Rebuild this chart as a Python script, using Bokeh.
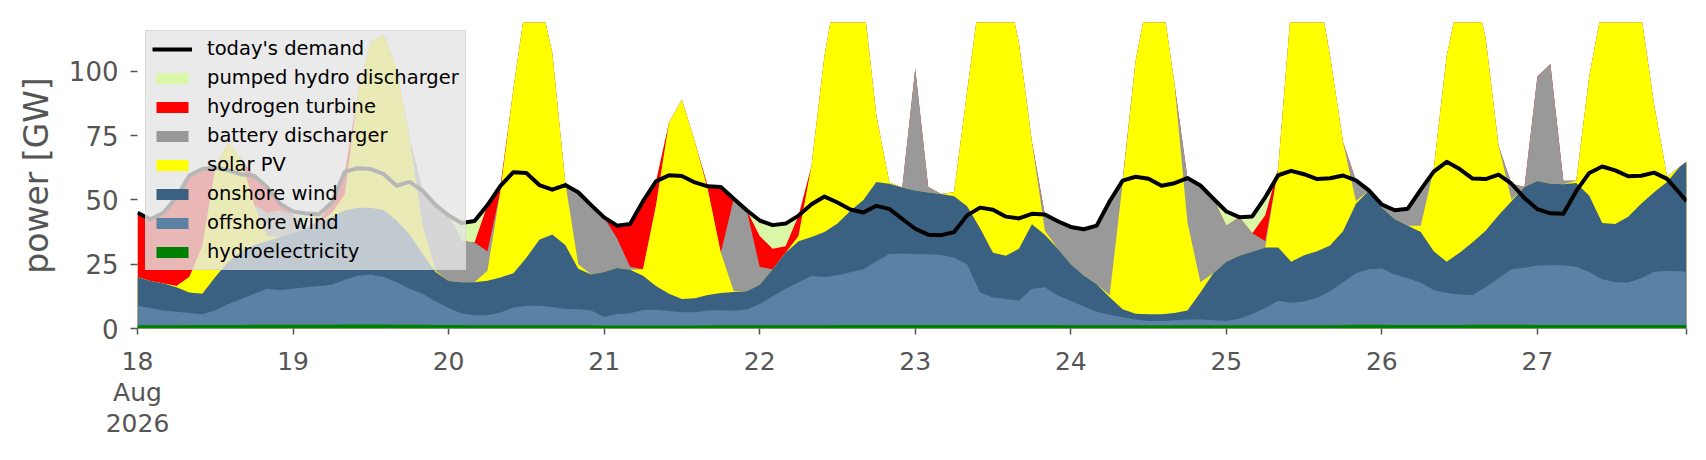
import numpy as np
from bokeh.plotting import figure
from bokeh.models import FixedTicker, Legend, LegendItem, Range1d
from bokeh.embed import file_html
from bokeh.resources import INLINE

# time axis: hours since 18 Aug 2026 00:00 (2-hourly readings, last point 27 Aug 23:00)
hours = list(range(0, 240, 2)) + [239]

day_ticks = [0, 24, 48, 72, 96, 120, 144, 168, 192, 216]
day_labels = ["18\nAug\n2026", "19", "20", "21", "22", "23", "24", "25", "26", "27"]

# GW, one row per day (12 two-hourly values; last row has the extra 23:00 value)
hydroelectricity = [
    1.3, 1.3, 1.3, 1.3, 1.4, 1.4, 1.4, 1.4, 1.4, 1.5, 1.5, 1.5,
    1.5, 1.5, 1.5, 1.5, 1.6, 1.6, 1.6, 1.6, 1.5, 1.5, 1.5, 1.4,
    1.4, 1.4, 1.3, 1.3, 1.3, 1.3, 1.3, 1.3, 1.3, 1.3, 1.3, 1.3,
    1.2, 1.2, 1.2, 1.2, 1.2, 1.2, 1.2, 1.2, 1.3, 1.3, 1.3, 1.3,
    1.3, 1.3, 1.3, 1.3, 1.3, 1.3, 1.4, 1.4, 1.4, 1.4, 1.4, 1.4,
    1.4, 1.4, 1.4, 1.4, 1.4, 1.4, 1.4, 1.4, 1.4, 1.4, 1.4, 1.4,
    1.3, 1.3, 1.3, 1.3, 1.3, 1.3, 1.3, 1.3, 1.3, 1.3, 1.3, 1.3,
    1.3, 1.3, 1.3, 1.3, 1.3, 1.3, 1.3, 1.3, 1.3, 1.4, 1.5, 1.5,
    1.5, 1.4, 1.4, 1.4, 1.4, 1.4, 1.4, 1.5, 1.5, 1.5, 1.5, 1.5,
    1.4, 1.4, 1.4, 1.4, 1.4, 1.4, 1.4, 1.4, 1.4, 1.4, 1.4, 1.4, 1.4,
]
offshore_wind = [
    7.5, 6.7, 5.7, 5.2, 4.6, 4.1, 5.6, 8.1, 10.1, 12.0, 14.0, 13.5,
    14.0, 14.5, 15.0, 15.5, 17.4, 18.9, 19.4, 18.4, 16.5, 14.0, 12.0, 9.1,
    6.6, 4.4, 3.9, 3.9, 4.9, 6.9, 7.5, 7.5, 7.1, 6.3, 6.2, 5.7,
    3.3, 4.4, 4.7, 6.0, 6.1, 5.6, 5.1, 5.1, 5.7, 5.8, 5.6, 6.1,
    8.2, 11.2, 14.2, 16.7, 19.1, 18.7, 19.3, 20.5, 21.6, 24.8, 27.6, 27.8,
    27.5, 27.5, 27.2, 26.1, 23.6, 12.6, 10.7, 10.1, 9.4, 14.1, 14.6, 11.4,
    9.5, 7.3, 5.2, 4.0, 3.1, 2.2, 1.6, 1.6, 1.9, 2.2, 2.2, 1.9,
    1.6, 2.5, 4.3, 6.7, 9.5, 8.7, 9.2, 10.7, 13.2, 16.6, 20.0, 21.5,
    21.8, 19.6, 18.1, 16.4, 13.6, 12.4, 11.8, 11.5, 14.5, 18.0, 21.5, 22.1,
    23.1, 23.2, 23.2, 22.6, 20.6, 17.8, 16.6, 16.5, 18.1, 20.7, 21.0, 20.9, 20.6,
]
onshore_wind = [
    11.2, 10.5, 10.5, 9.5, 8.0, 8.0, 13.0, 16.5, 18.5, 19.0, 18.5, 20.5,
    21.5, 23.0, 24.5, 26.5, 27.0, 26.5, 26.0, 26.0, 24.0, 21.0, 15.5, 11.5,
    10.5, 12.2, 12.8, 13.4, 13.6, 13.3, 18.7, 25.7, 28.2, 24.9, 15.7, 14.0,
    17.5, 17.9, 16.9, 13.3, 9.2, 6.7, 5.2, 5.5, 6.0, 6.7, 7.3, 7.1,
    7.5, 10.5, 14.0, 15.9, 15.2, 17.5, 20.1, 23.9, 27.0, 30.8, 27.3, 25.6,
    24.8, 24.0, 23.7, 23.9, 22.5, 25.0, 17.4, 16.8, 20.2, 25.0, 20.5, 18.2,
    14.2, 12.0, 10.7, 6.9, 3.1, 2.2, 2.6, 2.6, 2.8, 3.5, 10.5, 18.3,
    23.1, 24.5, 24.2, 23.5, 20.7, 16.0, 18.0, 18.0, 17.8, 19.8, 27.0, 30.7,
    23.7, 21.5, 20.5, 19.7, 15.0, 12.2, 16.3, 20.5, 22.0, 24.5, 26.5, 31.4,
    32.9, 31.7, 31.5, 32.6, 29.6, 21.8, 22.6, 25.6, 29.0, 30.9, 34.6, 40.7, 42.8,
]
solar_pv = [
    0, 0, 0, 0.5, 6.0, 18.5, 42.0, 46.4, 36.0, 15.5, 2.0, 0,
    0, 0, 0, 1.5, 6.0, 44.6, 64.7, 68.0, 59.0, 37.0, 11.0, 0.5,
    0, 0, 0, 3.9, 33.8, 71.5, 100.5, 95.5, 70.4, 24.3, 1.8, 0,
    0, 0, 0, 2.5, 31.2, 66.5, 77.5, 60.7, 41.0, 15.7, 0.3, 0,
    0, 0, 0, 2.1, 27.7, 68.5, 94.2, 94.2, 78.0, 25.7, 0.5, 0,
    0, 0, 0, 1.6, 44.5, 91.0, 110.5, 106.7, 80.0, 32.0, 1.5, 0,
    0, 0, 0, 0.8, 49.0, 98.3, 124.5, 124.5, 89.0, 34.2, 4.0, 0,
    0, 0, 0, 0, 30.5, 99.0, 109.5, 105.0, 73.7, 34.7, 1.0, 0,
    0, 0, 0, 2.5, 32.0, 80.0, 100.5, 101.5, 75.0, 27.0, 0.5, 0,
    0, 0, 0, 0.9, 46.4, 84.0, 94.4, 91.5, 73.5, 34.0, 2.0, 0, 0,
]
battery_discharger = [
    0, 0, 0, 0, 0, 0, 0, 0, 0, 0, 9.0, 10.5,
    7.0, 0, 0, 0, 0, 0, 0, 0, 0, 0, 13.5, 25.5,
    25.5, 16.0, 15.4, 7.5, 0, 0, 0, 0, 0, 0, 28.0, 27.0,
    21.2, 11.5, 1.2, 0, 0, 0, 0, 0, 0, 0, 36.0, 31.5,
    7.0, 0, 0, 0, 0, 0, 0, 0, 0, 0, 0, 0,
    47.2, 2.1, 0, 0, 0, 0, 0, 0, 0, 0, 6.3, 10.7,
    14.5, 18.0, 22.8, 36.5, 1.0, 0, 0, 0, 0, 17.3, 37.6, 29.0,
    14.0, 15.0, 7.2, 2.5, 0, 0, 0, 0, 0, 0, 8.1, 0,
    1.2, 3.5, 6.6, 14.0, 0, 0, 0, 0, 0, 0, 6.3, 0,
    40.6, 46.6, 1.4, 0, 0, 0, 0, 0, 0, 0, 0, 0, 0,
]
hydrogen_turbine = [
    25.0, 24.0, 27.5, 34.5, 39.5, 30.0, 0.5, 0, 0, 11.4, 10.0, 2.5,
    0, 0, 1.0, 4.0, 9.0, 0, 0, 0, 0, 0, 0, 0,
    0, 0, 0, 18.0, 1.9, 0, 0, 0, 0, 0, 0, 0,
    0, 5.0, 16.6, 26.5, 9.5, 0, 0, 0, 1.3, 25.5, 0, 0,
    12.0, 8.0, 2.5, 7.9, 0, 0, 0, 0, 0, 0, 0, 0,
    0, 0, 0, 0, 0, 0, 0, 0, 0, 0, 0, 0,
    0, 0, 0, 0, 0, 0, 0, 0, 0, 0, 0, 0,
    0, 0, 0, 10.0, 0, 0, 0, 0, 0, 0, 0, 0,
    0, 0, 0, 0, 0, 0, 0, 0, 0, 0, 0, 0,
    0, 0, 0, 0, 0, 0, 0, 0, 0, 0, 0, 0, 0,
]
pumped_hydro_discharger = [
    0, 0, 0, 0, 0, 0, 0, 0, 0, 0, 0, 0,
    1.5, 5.5, 2.4, 0, 0, 0, 0, 0, 0, 0, 0, 0,
    0, 7.0, 8.4, 0, 0, 0, 0, 0, 0, 0, 0, 0,
    0, 0, 0, 0, 0, 0, 0, 0, 0, 0, 0, 0,
    6.0, 9.2, 8.8, 0, 0, 0, 0, 0, 0, 0, 0, 0,
    0, 0, 0, 0, 0, 0, 0, 0, 0, 0, 0, 0,
    0, 0, 0, 0, 0, 0, 0, 0, 0, 0, 0, 0,
    5.5, 0, 6.6, 7.0, 0, 0, 0, 0, 0, 0, 0, 0,
    0, 0, 0, 0, 0, 0, 0, 0, 0, 0, 0, 0,
    0, 0, 0, 0, 0, 0, 0, 0, 0, 0, 0, 0, 0,
]
todays_demand = [
    45.0, 42.5, 45.0, 51.0, 59.5, 62.0, 62.5, 61.5, 60.0, 59.4, 55.0, 48.5,
    45.5, 44.7, 44.4, 49.0, 61.0, 62.3, 62.0, 60.0, 55.5, 57.0, 53.5, 48.0,
    44.0, 41.0, 41.8, 48.0, 55.5, 60.8, 60.5, 55.8, 54.0, 55.8, 53.0, 48.0,
    43.2, 40.0, 40.6, 49.5, 57.2, 59.6, 59.3, 56.8, 55.3, 55.0, 50.5, 46.0,
    42.0, 40.2, 40.8, 43.9, 48.3, 51.3, 49.0, 46.3, 45.1, 47.7, 46.5, 42.6,
    38.8, 36.5, 36.3, 37.5, 44.0, 47.0, 46.2, 43.5, 42.8, 44.6, 44.3, 41.7,
    39.5, 38.6, 40.0, 49.5, 57.5, 59.0, 58.2, 55.5, 56.5, 58.5, 55.6, 50.5,
    45.5, 43.3, 43.6, 51.0, 59.6, 61.3, 60.0, 58.1, 58.4, 59.5, 57.6, 53.7,
    48.2, 46.0, 46.6, 54.0, 61.0, 64.8, 62.0, 58.3, 58.1, 59.8, 56.3, 50.7,
    46.4, 44.8, 44.6, 53.5, 60.5, 63.0, 61.5, 59.2, 59.4, 60.6, 58.2, 52.5, 49.5,
]

# stack order bottom -> top
layers = [
    ("hydroelectricity", hydroelectricity, "#008000"),
    ("offshore wind", offshore_wind, "#5b82a4"),
    ("onshore wind", onshore_wind, "#3a6082"),
    ("solar PV", solar_pv, "#ffff00"),
    ("battery discharger", battery_discharger, "#999999"),
    ("hydrogen turbine", hydrogen_turbine, "#ff0000"),
    ("pumped hydro discharger", pumped_hydro_discharger, "#d9f7a6"),
]

FONT = "DejaVu Sans"
GREY = "#555555"

p = figure(
    frame_width=1549, frame_height=306,
    min_border_left=137, min_border_right=12, min_border_top=22, min_border_bottom=122,
    x_range=Range1d(0, 239), y_range=Range1d(0, 119),
    output_backend="svg", toolbar_location=None,
    background_fill_color="white", border_fill_color="white",
)
p.outline_line_color = None
p.xgrid.visible = False
p.ygrid.visible = False

x = np.array(hours, dtype=float)
tops = []
acc = np.zeros(len(x))
for name, vals, color in layers:
    acc = acc + np.array(vals, dtype=float)
    tops.append(acc.copy())

renderers = {}
# paint from the highest cumulative layer downwards (avoids seams)
for (name, vals, color), top in reversed(list(zip(layers, tops))):
    r = p.varea(x=x, y1=np.zeros(len(x)), y2=top, fill_color=color, fill_alpha=1.0)
    renderers[name] = r

dr = p.line(x, todays_demand, line_color="black", line_width=4, line_join="round")

items = [LegendItem(label="today's demand", renderers=[dr])]
for name, vals, color in reversed(layers):
    items.append(LegendItem(label=name, renderers=[renderers[name]]))

legend = Legend(
    items=items, location="top_left", margin=8, padding=6, spacing=6,
    glyph_width=40, glyph_height=14, label_standoff=15, label_height=20,
    label_text_font=FONT, label_text_font_size="19.5px", label_text_color="black",
    background_fill_color="#e5e5e5", background_fill_alpha=0.8,
    border_line_color="#cccccc", border_line_width=1,
)
p.add_layout(legend)

# x axis
p.xaxis.ticker = FixedTicker(ticks=day_ticks + [239])
overrides = {t: lab for t, lab in zip(day_ticks, day_labels)}
overrides[239] = ""
p.xaxis.major_label_overrides = overrides
p.xaxis.minor_tick_line_color = None
p.xaxis.axis_line_color = None
p.xaxis.major_tick_line_color = GREY
p.xaxis.major_tick_line_width = 1.5
p.xaxis.major_tick_out = 6
p.xaxis.major_tick_in = 0
p.xaxis.major_label_standoff = 12
p.xaxis.major_label_text_font = FONT
p.xaxis.major_label_text_font_size = "25px"
p.xaxis.major_label_text_line_height = 1.08
p.xaxis.major_label_text_color = GREY

# y axis
p.yaxis.ticker = FixedTicker(ticks=[0, 25, 50, 75, 100])
p.yaxis.minor_tick_line_color = None
p.yaxis.axis_line_color = None
p.yaxis.major_tick_line_color = GREY
p.yaxis.major_tick_line_width = 1.5
p.yaxis.major_tick_out = 7
p.yaxis.major_tick_in = 0
p.yaxis.major_label_standoff = 12
p.yaxis.major_label_text_font = FONT
p.yaxis.major_label_text_font_size = "26px"
p.yaxis.major_label_text_color = GREY
p.yaxis.axis_label = "power [GW]"
p.yaxis.axis_label_text_font = FONT
p.yaxis.axis_label_text_font_size = "33px"
p.yaxis.axis_label_text_font_style = "normal"
p.yaxis.axis_label_text_color = GREY
p.yaxis.axis_label_standoff = 10

open("out.html", "w").write(file_html(p, INLINE))
